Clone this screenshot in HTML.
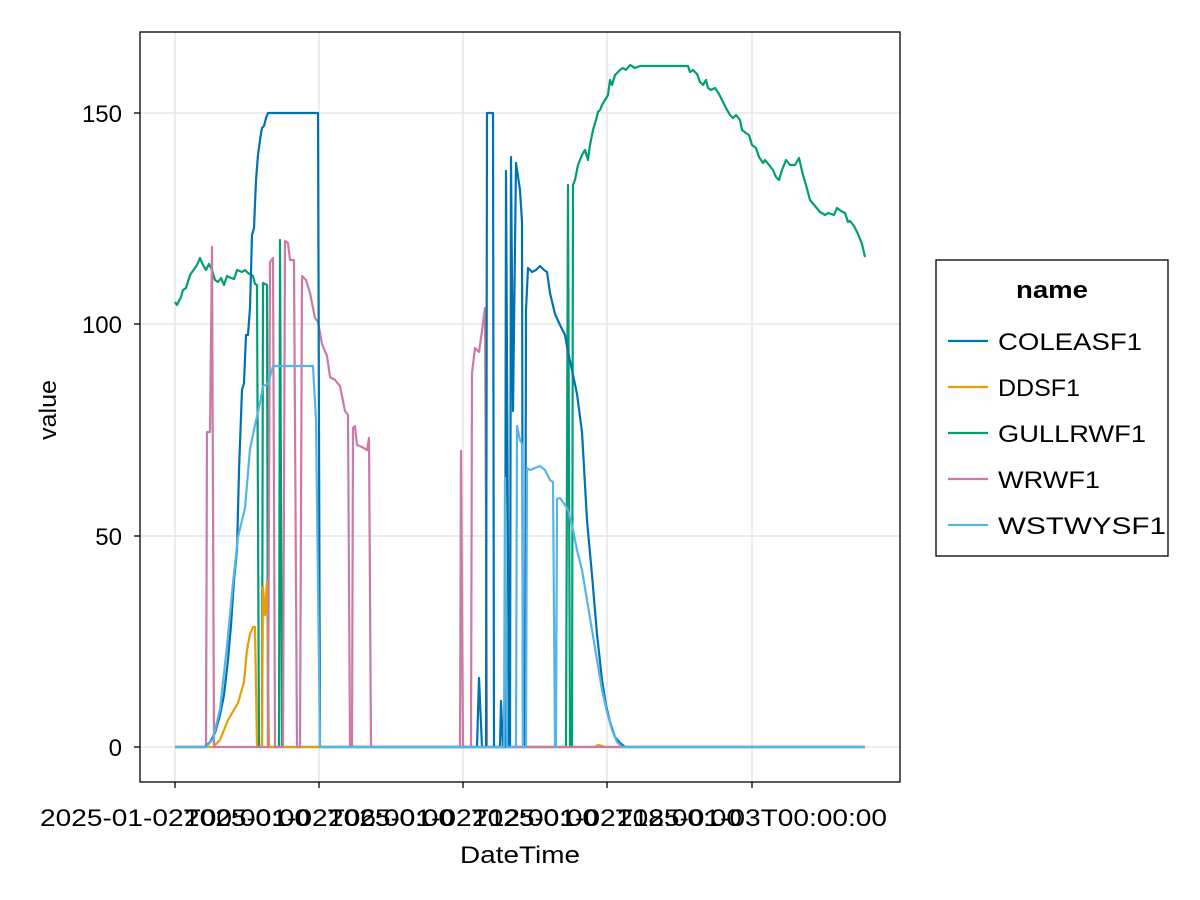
<!DOCTYPE html>
<html><head><style>body{margin:0;background:#fff}svg{display:block}text{font-family:"Liberation Sans",Arial,sans-serif}</style></head>
<body>
<svg width="1200" height="900" xmlns="http://www.w3.org/2000/svg">
<rect width="1200" height="900" fill="#fff"/>
<g stroke="#e6e6e6" stroke-width="1.5">
<line x1="175" y1="32" x2="175" y2="782"/><line x1="319" y1="32" x2="319" y2="782"/><line x1="463" y1="32" x2="463" y2="782"/><line x1="607" y1="32" x2="607" y2="782"/><line x1="752" y1="32" x2="752" y2="782"/>
<line x1="140" y1="747" x2="900" y2="747"/><line x1="140" y1="536" x2="900" y2="536"/><line x1="140" y1="324" x2="900" y2="324"/><line x1="140" y1="113" x2="900" y2="113"/>
</g>
<g fill="none" stroke-width="2.2" stroke-linejoin="round">
<polyline stroke="#009e73" points="175,302 177,305 181,297 183,290 186,288 190,275 197,265 200,258 203,265 206,270 209,264 212,270 215,280 218,282 221,278 224,285 227,276 231,278 234,279 237,270 242,272 245,270 248,273 253,276 255,284 257,285 259,747 262,747 263,283 267,285 268,747 279,747 280,240 282,747 566,747 568,185 570,747 572,747 573,185 575,180 578,165 582,155 585,150 588,160 590,145 593,130 596,120 598,112 600,110 602,105 605,100 608,95 610,80 612,85 615,75 620,70 623,68 626,70 630,65 635,68 640,66 660,66 688,66 690,72 693,70 697,74 700,82 703,85 706,80 708,88 711,90 715,88 719,94 722,100 726,108 730,115 733,118 736,115 740,120 742,130 746,133 749,135 752,145 756,148 759,157 763,163 765,160 769,165 773,170 776,177 779,180 782,170 786,160 790,165 795,165 799,158 803,175 806,185 810,200 815,206 820,212 825,215 828,213 834,215 837,208 841,211 845,213 848,222 850,221 854,226 858,234 862,244 865,257"/>
<polyline stroke="#e69f00" points="175,747 213,747 220,740 228,720 238,703 244,682 247,650 250,634 253,627 255,627 257,747 262,747 263,587 265,615 267,581 269,747 595,747 598,745 602,746 605,747 865,747"/>
<polyline stroke="#cc79a7" points="175,747 206,747 207,432 210,432 212,247 214,747 268,747 270,262 273,258 275,747 283,747 285,241 288,243 290,260 294,260 297,747 300,747 302,276 306,280 310,293 315,318 318,322 322,344 327,356 330,377 335,380 340,386 345,411 348,415 350,747 352,747 353,428 355,426 357,445 362,447 367,450 369,438 371,747 460,747 461,451 463,747 471,747 472,373 475,348 479,352 482,331 485,308 487,747 865,747"/>
<polyline stroke="#0072b2" points="175,747 205,747 210,742 215,733 220,715 224,695 228,660 231,625 234,580 237,550 239,470 242,390 244,383 246,335 248,335 250,308 252,235 254,228 256,180 258,155 260,140 262,128 264,126 266,118 268,113 318,113 320,747 477,747 479,678 482,747 486,747 487,113 493,113 494,747 500,747 501,701 503,747 505,747 506,171 509,747 510,747 511,157 513,411 516,163 520,190 522,222 523,747 525,747 526,310 528,268 532,272 536,270 540,266 544,270 547,272 550,293 555,314 560,325 565,335 568,352 572,370 577,394 582,432 587,520 592,575 597,634 602,680 606,705 610,722 615,737 620,743 625,747 865,747"/>
<polyline stroke="#56b4e9" points="175,747 206,747 213,739 220,709 227,646 233,583 238,537 245,508 250,449 255,425 260,403 263,386 268,384 273,366 313,366 316,420 320,747 504,747 505,478 507,747 516,747 517,426 520,440 522,444 523,747 526,747 527,468 530,470 535,468 540,466 545,470 550,480 553,482 555,747 556,747 557,499 560,498 565,505 568,510 572,525 577,550 582,570 587,600 592,630 597,660 602,690 607,712 612,730 617,742 622,747 865,747"/>
</g>
<rect x="140" y="32" width="760" height="750" fill="none" stroke="#000" stroke-width="1.3"/>
<g stroke="#000" stroke-width="1.3">
<line x1="175" y1="782" x2="175" y2="788"/><line x1="319" y1="782" x2="319" y2="788"/><line x1="463" y1="782" x2="463" y2="788"/><line x1="607" y1="782" x2="607" y2="788"/><line x1="752" y1="782" x2="752" y2="788"/>
<line x1="134" y1="747" x2="140" y2="747"/><line x1="134" y1="536" x2="140" y2="536"/><line x1="134" y1="324" x2="140" y2="324"/><line x1="134" y1="113" x2="140" y2="113"/>
</g>
<g font-size="24" fill="#000">
<text x="122" y="756" text-anchor="end">0</text>
<text x="122" y="545" text-anchor="end">50</text>
<text x="122" y="333" text-anchor="end">100</text>
<text x="122" y="122" text-anchor="end">150</text>
<text x="40" y="826" textLength="270" lengthAdjust="spacingAndGlyphs">2025-01-02T00:00:00</text>
<text x="184" y="826" textLength="270" lengthAdjust="spacingAndGlyphs">2025-01-02T06:00:00</text>
<text x="328" y="826" textLength="270" lengthAdjust="spacingAndGlyphs">2025-01-02T12:00:00</text>
<text x="472" y="826" textLength="270" lengthAdjust="spacingAndGlyphs">2025-01-02T18:00:00</text>
<text x="617" y="826" textLength="270" lengthAdjust="spacingAndGlyphs">2025-01-03T00:00:00</text>
<text x="460" y="863" textLength="120" lengthAdjust="spacingAndGlyphs">DateTime</text>
<text transform="translate(56,440) rotate(-90)" textLength="60" lengthAdjust="spacingAndGlyphs">value</text>
</g>
<rect x="936" y="260" width="232" height="296" fill="#fff" stroke="#000" stroke-width="1.3"/>
<text x="1016" y="298" font-size="24" font-weight="bold" textLength="72" lengthAdjust="spacingAndGlyphs">name</text>
<g stroke-width="2.2">
<line x1="948" y1="341" x2="988" y2="341" stroke="#0072b2"/>
<line x1="948" y1="387" x2="988" y2="387" stroke="#e69f00"/>
<line x1="948" y1="433" x2="988" y2="433" stroke="#009e73"/>
<line x1="948" y1="479" x2="988" y2="479" stroke="#cc79a7"/>
<line x1="948" y1="525" x2="988" y2="525" stroke="#56b4e9"/>
</g>
<g font-size="24">
<text x="998" y="350" textLength="144" lengthAdjust="spacingAndGlyphs">COLEASF1</text>
<text x="998" y="396" textLength="82" lengthAdjust="spacingAndGlyphs">DDSF1</text>
<text x="998" y="442" textLength="148" lengthAdjust="spacingAndGlyphs">GULLRWF1</text>
<text x="998" y="488" textLength="102" lengthAdjust="spacingAndGlyphs">WRWF1</text>
<text x="998" y="534" textLength="168" lengthAdjust="spacingAndGlyphs">WSTWYSF1</text>
</g>
</svg>
</body></html>
